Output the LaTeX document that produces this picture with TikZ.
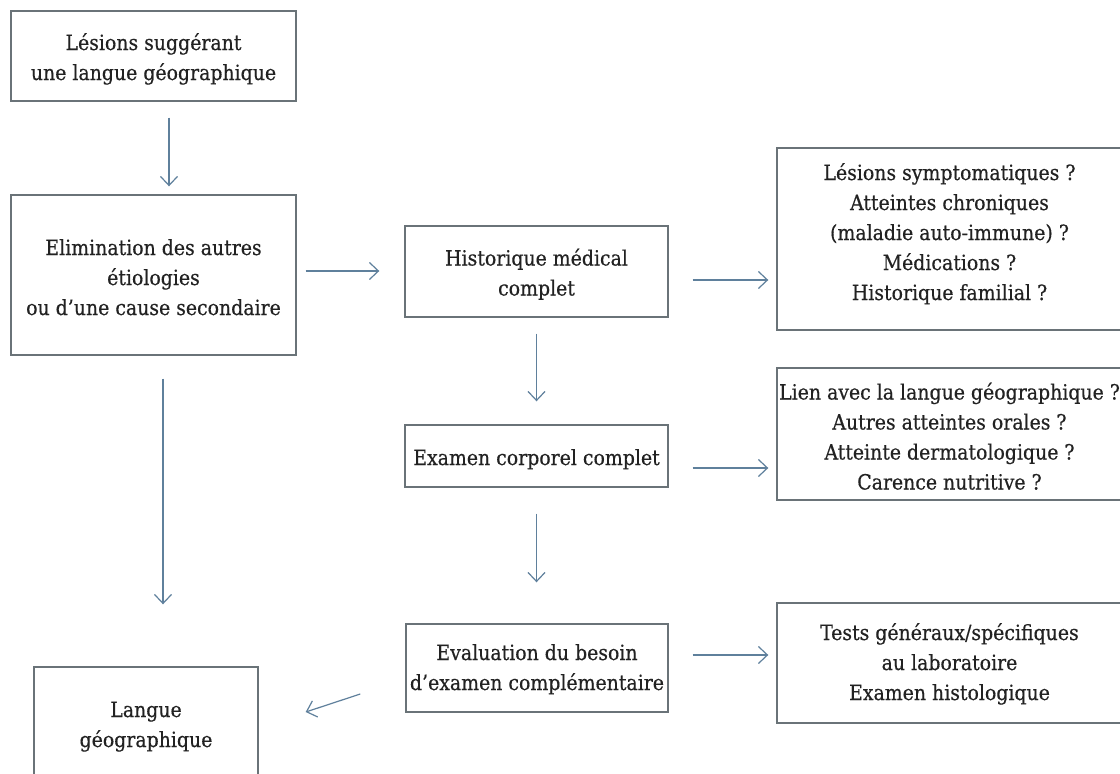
\documentclass[tikz,border=0pt]{standalone}
\usepackage{fontspec}
\setmainfont{DejaVu Serif Condensed}[FakeBold=0.4]
\usetikzlibrary{arrows.meta,calc}
\definecolor{boxline}{HTML}{6A7378}
\definecolor{arrowc}{HTML}{5F809C}
\definecolor{txt}{HTML}{222222}
\newcommand{\boxtext}[2]{\raisebox{#1}[\height][\depth]{\begin{tabular}{@{}c@{}}#2\end{tabular}}}
\tikzset{
  box/.style={draw=boxline, line width=1.4pt, fill=white, inner sep=0pt, align=center,
    text=txt, font=\fontsize{21}{30}\selectfont},
  arr/.style={draw=arrowc, line width=1.2pt, -{Straight Barb[length=9pt,width=17pt,line width=1.2pt]}},
}
\begin{document}
\begin{tikzpicture}[x=1pt,y=-1pt]
\useasboundingbox[fill=white] (0,0) rectangle (1120,774);
\node[box, minimum width=285pt, minimum height=90pt] (b1) at (153.5,56) {\boxtext{-3pt}{Lésions suggérant\\une langue géographique}};
\node[box, minimum width=285pt, minimum height=160pt] (b2) at (153.5,275) {\boxtext{-4pt}{Elimination des autres\\étiologies\\ou d’une cause secondaire}};
\node[box, minimum width=263pt, minimum height=91pt] (b3) at (536.5,271.5) {\boxtext{-3pt}{Historique médical\\complet}};
\node[box, minimum width=345pt, minimum height=182pt] (b4) at (949.5,239) {\boxtext{5pt}{Lésions symptomatiques ?\\Atteintes chroniques\\(maladie auto-immune) ?\\Médications ?\\Historique familial ?}};
\node[box, minimum width=263pt, minimum height=62pt] (b5) at (536.5,456) {\boxtext{-3pt}{Examen corporel complet}};
\node[box, minimum width=345pt, minimum height=132pt] (b6) at (949.5,434) {\boxtext{-4.5pt}{Lien avec la langue géographique ?\\Autres atteintes orales ?\\Atteinte dermatologique ?\\Carence nutritive ?}};
\node[box, minimum width=262pt, minimum height=88pt] (b7) at (537,668) {\boxtext{-1pt}{Evaluation du besoin\\d’examen complémentaire}};
\node[box, minimum width=345pt, minimum height=120pt] (b8) at (949.5,663) {\boxtext{-1pt}{Tests généraux/spécifiques\\au laboratoire\\Examen histologique}};
\node[box, minimum width=224pt, minimum height=114pt] (b9) at (146,724) {\boxtext{-2pt}{Langue\\géographique}};

\draw[arr, shorten <=16pt, shorten >=8pt] ([xshift=15.5pt]b1.south) -- ([xshift=15.5pt]b1.south |- b2.north);
\draw[arr, shorten <=9pt, shorten >=25pt] ([yshift=4pt]b2.east) -- ([yshift=4pt]b2.east -| b3.west);
\draw[arr, shorten <=24pt, shorten >=8pt] ([yshift=-8.5pt]b3.east) -- ([yshift=-8.5pt]b3.east -| b4.west);
\draw[arr, shorten <=16pt, shorten >=23pt] (b3.south) -- (b3.south |- b5.north);
\draw[arr, shorten <=24pt, shorten >=8pt] ([yshift=-12pt]b5.east) -- ([yshift=-12pt]b5.east -| b6.west);
\draw[arr, shorten <=26pt, shorten >=41pt] (b5.south) -- (b5.south |- b7.north);
\draw[arr, shorten <=24pt, shorten >=8pt] ([yshift=13pt]b7.east) -- ([yshift=13pt]b7.east -| b8.west);
\draw[arr, shorten <=23pt, shorten >=62pt] ([xshift=9.5pt]b2.south) -- ([xshift=9.5pt]b2.south |- b9.north);
\draw[arr] ($(b7.west)+(-45,26)$) -- ($(b9.east)+(47,-12)$);
\end{tikzpicture}
\end{document}
